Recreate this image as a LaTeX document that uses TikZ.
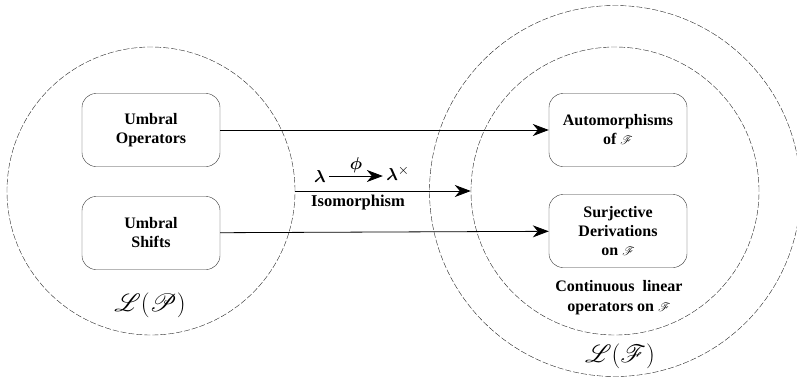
\documentclass[tikz,border=0pt]{standalone}
\usepackage{fontspec}
\setmainfont{Liberation Serif}
\usepackage{mathrsfs}
\usepackage{bm}
\usetikzlibrary{positioning}
\usetikzlibrary{arrows.meta}
\newcommand{\spF}{{\fontsize{13}{14}\selectfont$\mathscr{F}$}}
\tikzset{x=1pt, y=-1pt, % Coordinates in pixels, measured from the top left corner
region/.style={ % Sets the properties for the dashed spaces
circle, inner sep=0pt,
draw=black!85, thin,
dash pattern=on 6pt off 2pt},
opbox/.style={ % Sets the properties for each operator class
draw=black!80, thin,
rounded corners=14pt,
minimum width=138pt, minimum height=73pt,
align=center,
font=\fontsize{16}{19}\selectfont\bfseries},
bigtext/.style={font=\fontsize{24}{26}\selectfont},
link/.style={ % Sets the properties for each map
draw,
-{Stealth[length=16pt,width=12pt,inset=5pt]}, % Bold arrowheads
line width=0.8pt}}

\begin{document}
\begin{tikzpicture}
				\useasboundingbox (0,0) rectangle (797,380);

				\node[region, minimum size=288pt] (lp) at (151,191) {};
				\node[region, minimum size=371pt] (lf) at (615,191) {};
				\node[region, minimum size=288pt] (cont) at (615,191) {};

				\node[opbox] (ops) at (151,130) {Umbral\\Operators};
				\node[opbox] (shifts) at (151,233) {Umbral\\Shifts};
				\node[opbox] (auto) at (618,130) {Automorphisms\\of \spF};
				\node[opbox] (surj) at (618,231) {Surjective\\Derivations\\on \spF};

				\node[bigtext] (lplabel) at (150,305) {$\mathscr{L}\Big(\mathscr{P}\Big)$};
				\node[bigtext] (lflabel) at (620,356) {$\mathscr{L}\Big(\mathscr{F}\Big)$};
				\node[align=center, font=\fontsize{16}{20}\selectfont\bfseries] (contlabel) at (619,298)
					{Continuous\ \ linear\\operators on \spF};

				\node[font=\fontsize{19}{20}\selectfont] (lam) at (320,176) {$\bm{\lambda}$};
				\node[font=\fontsize{19}{20}\selectfont] (lamx) at (398,173) {$\bm{\lambda}^{\times}$};
				\node[font=\fontsize{16.5}{17}\selectfont\bfseries] (iso) at (358,203) {Isomorphism};

				\draw[link] (ops) -- (auto);
				\draw[link] (shifts) -- (surj);
				\draw[link] (lp.east) -- (cont.west);
				\draw[link] (lam) -- node[above=-1pt, font=\fontsize{19}{20}\selectfont] (phi) {$\bm{\phi}$} (lamx.west |- lam);
			\end{tikzpicture}
\end{document}
